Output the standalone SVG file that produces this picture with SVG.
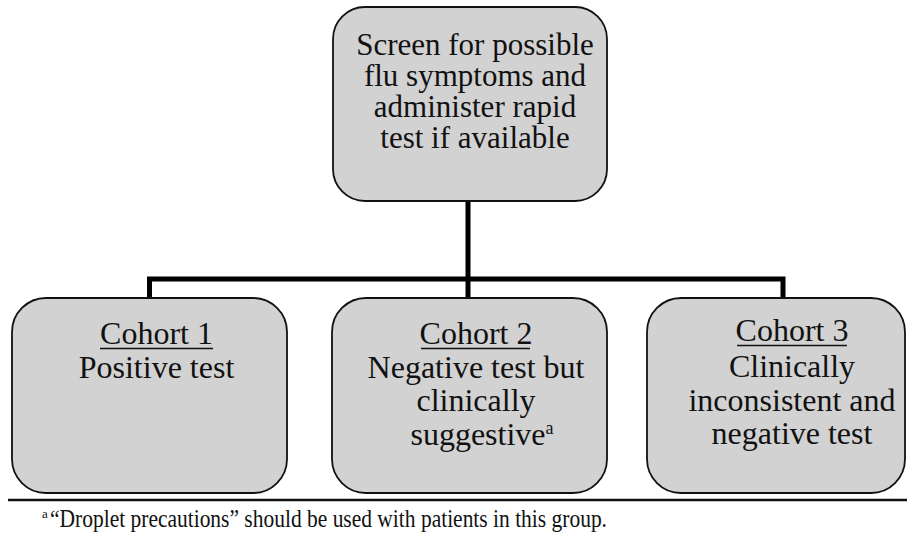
<svg xmlns="http://www.w3.org/2000/svg" width="907" height="537" viewBox="0 0 907 537">
<style>
.box{fill:#d2d2d2;stroke:#111;stroke-width:1.8}
.t{font-family:"Liberation Serif","Times New Roman",Times,serif;font-size:32px;fill:#111;text-anchor:middle}
.top{font-size:31px}
.ul{stroke:#111;stroke-width:1.6}
.conn{fill:none;stroke:#000;stroke-width:5;stroke-linejoin:miter}
.fn{font-family:"Liberation Serif","Times New Roman",Times,serif;font-size:25px;fill:#111}
</style>
<rect width="907" height="537" fill="#fff"/>
<g id="connectors">
<line class="conn" x1="468" y1="201" x2="468" y2="299"/>
<polyline class="conn" points="149.5,298 149.5,279 783,279 783,298"/>
</g>
<g id="screen">
<rect class="box" x="333" y="7" width="274" height="194" rx="32" ry="32"/>
<text class="t top" x="475" y="55">Screen for possible</text>
<text class="t top" x="475" y="86">flu symptoms and</text>
<text class="t top" x="475" y="117">administer rapid</text>
<text class="t top" x="475" y="148">test if available</text>
</g>
<g id="cohort1">
<rect class="box" x="12" y="298" width="275" height="195" rx="34" ry="34"/>
<text class="t" x="156.5" y="344">Cohort 1</text>
<line class="ul" x1="100" y1="348.5" x2="213" y2="348.5"/>
<text class="t" x="156.5" y="378">Positive test</text>
</g>
<g id="cohort2">
<rect class="box" x="332" y="298" width="275" height="195" rx="34" ry="34"/>
<text class="t" x="476" y="344">Cohort 2</text>
<line class="ul" x1="421" y1="348.5" x2="530" y2="348.5"/>
<text class="t" x="476" y="378">Negative test but</text>
<text class="t" x="476" y="411">clinically</text>
<text class="t" x="482" y="445">suggestive<tspan dy="-11" font-size="18">a</tspan></text>
</g>
<g id="cohort3">
<rect class="box" x="647" y="298" width="258" height="195" rx="34" ry="34"/>
<text class="t" x="792" y="341">Cohort 3</text>
<line class="ul" x1="737" y1="345.5" x2="847" y2="345.5"/>
<text class="t" x="792" y="377">Clinically</text>
<text class="t" x="792" y="411">inconsistent and</text>
<text class="t" x="792" y="444">negative test</text>
</g>
<g id="footnote">
<line x1="8" y1="500" x2="907" y2="500" stroke="#111" stroke-width="2.5"/>
<text class="fn" x="42" y="518" style="font-size:13px">a</text>
<text class="fn" x="50" y="527" textLength="557" lengthAdjust="spacingAndGlyphs">“Droplet precautions” should be used with patients in this group.</text>
</g>
</svg>
